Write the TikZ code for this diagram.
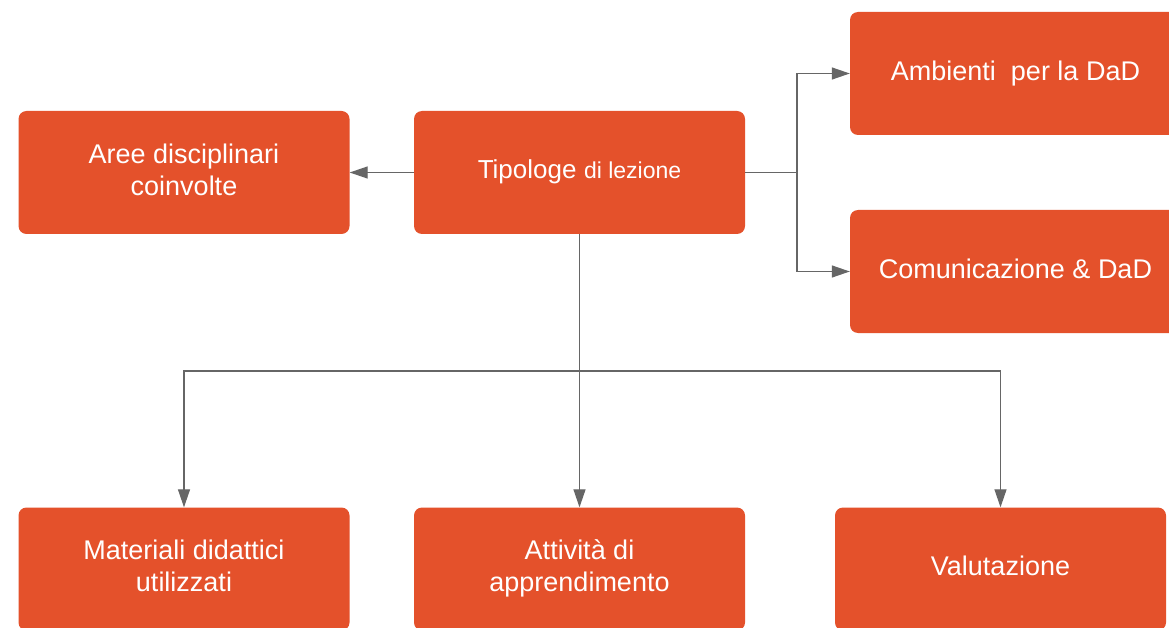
\documentclass[tikz,border=0pt]{standalone}
\usepackage{fontspec}
\setmainfont{Liberation Sans}
\usetikzlibrary{arrows.meta}
\definecolor{boxorange}{HTML}{E4512B}
\definecolor{linegray}{HTML}{666666}
\begin{document}
\begin{tikzpicture}[x=1pt,y=1pt,
  box/.style={rectangle, rounded corners=8pt, fill=boxorange, draw=none,
    minimum width=331pt, minimum height=123pt, text=white, align=center,
    font=\fontsize{27}{32}\selectfont, inner sep=0pt, text depth=6pt},
  conn/.style={draw=linegray, line width=1.3pt},
  arr/.style={conn, -{Triangle[length=18pt,width=12pt]}}]
\useasboundingbox (0,0) rectangle (1169,-628);
\fill[white] (0,0) rectangle (1169,-628);
\node[box] (aree) at (184,-172.5) {Aree disciplinari\\coinvolte};
\node[box] (tip) at (579.5,-172.5) {{\fontsize{26}{32}\selectfont Tipologe} {\fontsize{23}{32}\selectfont di lezione}};
\node[box] (amb) at (1015.5,-73.5) {Ambienti\ \ per la DaD};
\node[box] (com) at (1015.5,-271.5) {Comunicazione \& DaD};
\node[box] (mat) at (184,-569) {Materiali didattici\\utilizzati};
\node[box] (att) at (579.5,-569) {Attività di\\apprendimento};
\node[box] (val) at (1000.5,-569) {Valutazione};
\coordinate (jr) at (797,-172.5);
\coordinate (jb) at (579.5,-371);
\draw[arr] (tip.west) -- (aree.east);
\draw[conn] (tip.east) -- (jr);
\draw[arr] (jr) |- (amb.west);
\draw[arr] (jr) |- (com.west);
\draw[conn] (tip.south) -- (jb);
\draw[arr] (jb) -| (mat.north);
\draw[arr] (jb) -- (att.north);
\draw[arr] (jb) -| (val.north);
\end{tikzpicture}
\end{document}
